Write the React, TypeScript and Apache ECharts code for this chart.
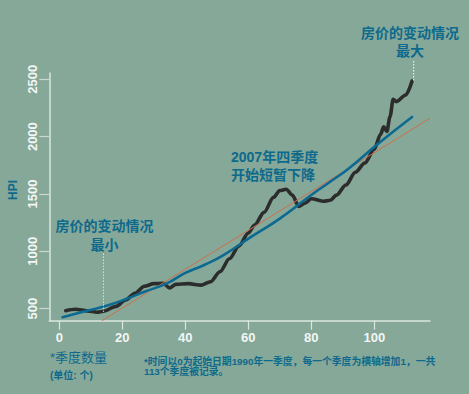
import React, { useEffect, useRef } from "react";
import * as echarts from "echarts";

// Observed house price index (HPI) by quarter index
const quarters = [2, 5, 9, 12, 14, 18, 21, 24, 27, 30, 33, 35, 37, 41, 45, 48, 51, 54, 57, 60, 62, 65, 68, 70, 72, 74, 76, 78, 80, 84, 86, 88, 91, 94, 97, 100, 102, 103, 104, 105, 106, 107, 110, 112];
const hpi = [482, 495, 480, 469, 478, 520, 576, 634, 695, 718, 722, 680, 712, 718, 705, 735, 822, 935, 1045, 1160, 1230, 1340, 1470, 1530, 1541, 1490, 1392, 1420, 1458, 1436, 1445, 1490, 1578, 1690, 1770, 1890, 2020, 2085, 2045, 2174, 2326, 2305, 2363, 2485];

// Quadratic fit (blue)
const fitQuarters = [1, 9, 15, 21, 27, 34, 40, 46, 52, 61, 70, 80, 86, 92, 101, 112];
const fitHpi = [425, 483, 526, 582, 648, 718, 812, 881, 965, 1128, 1285, 1491, 1607, 1725, 1934, 2172];

// Linear fit (red)
const linQuarters = [13.5, 117.7];
const linHpi = [395, 2160];

// Annotation guide points
const minQuarter = 14;
const minGuide = [474, 986];
const maxQuarter = 112.5;
const maxGuide = [2490, 2660];

const xTicks = [0, 20, 40, 60, 80, 100];
const yTicks = [500, 1000, 1500, 2000, 2500];

const FONT = "'Liberation Sans', 'Noto Sans CJK SC', sans-serif";
const BLUE_TEXT = "#0e6a8c";
const AXIS = "#dbe6e0";

export default function App() {
  const ref = useRef<HTMLDivElement>(null);
  useEffect(() => {
    const chart = echarts.init(ref.current!, null, { renderer: "svg" });
    const zip = (a: number[], b: number[]) => a.map((v, i) => [v, b[i]]);
    chart.setOption({
      animation: false,
      backgroundColor: "#85a898",
      grid: {
        left: 49.3,
        right: 39,
        top: 73,
        bottom: 73.3,
        containLabel: false,
        outerBoundsMode: "none",
      },
      xAxis: {
        type: "value",
        min: -3.2,
        max: 117.7,
        splitLine: { show: false },
        axisLine: { onZero: false, lineStyle: { color: AXIS, width: 1.5 } },
        axisTick: { show: true, length: 9, customValues: xTicks, lineStyle: { color: AXIS, width: 1.2 } },
        axisLabel: {
          customValues: xTicks,
          formatter: (v: number) => String(v),
          color: "#f3f6f4",
          fontWeight: "bold",
          fontSize: 13,
          fontFamily: FONT,
          margin: 10,
        },
      },
      yAxis: {
        type: "value",
        min: 395,
        max: 2555,
        splitLine: { show: false },
        axisLine: { onZero: false, lineStyle: { color: AXIS, width: 1.5 } },
        axisTick: { show: true, length: 10, customValues: yTicks, lineStyle: { color: "#c9d9d1", width: 1.2 } },
        axisLabel: {
          customValues: yTicks,
          formatter: (v: number) => String(v),
          rotate: 90,
          color: "#f3f6f4",
          fontWeight: "bold",
          fontSize: 13,
          fontFamily: FONT,
          margin: 10,
        },
      },
      series: [
        {
          type: "line",
          data: zip(quarters, hpi),
          smooth: 0.3,
          smoothMonotone: "x",
          symbol: "none",
          lineStyle: { color: "#2c2c2c", width: 3.6, cap: "round", join: "round" },
          z: 2,
        },
        {
          type: "line",
          data: zip(linQuarters, linHpi),
          symbol: "none",
          lineStyle: { color: "#cc6f4e", width: 1 },
          z: 3,
        },
        {
          type: "line",
          data: zip(fitQuarters, fitHpi),
          smooth: true,
          symbol: "none",
          lineStyle: { color: "#0c6a92", width: 2.6, cap: "round" },
          z: 4,
        },
        {
          type: "line",
          data: minGuide.map((v) => [minQuarter, v]),
          symbol: "none",
          clip: false,
          lineStyle: { color: "#ffffff", width: 1, type: [1, 2] },
          z: 5,
        },
        {
          type: "line",
          data: maxGuide.map((v) => [maxQuarter, v]),
          symbol: "none",
          clip: false,
          lineStyle: { color: "#e8eeeb", width: 1.2, type: [1.5, 1.5] },
          z: 5,
        },
      ],
      graphic: [
        {
          type: "text",
          x: 13,
          y: 190,
          rotation: Math.PI / 2,
          style: {
            text: "HPI",
            fill: BLUE_TEXT,
            font: `bold 12px ${FONT}`,
            textAlign: "center",
            textVerticalAlign: "middle",
          },
        },
        {
          type: "text",
          x: 410,
          y: 24,
          style: {
            text: "房价的变动情况\n最大",
            fill: BLUE_TEXT,
            font: `bold 14px ${FONT}`,
            lineHeight: 18,
            textAlign: "center",
            textVerticalAlign: "top",
          },
        },
        {
          type: "text",
          x: 104.5,
          y: 216.5,
          style: {
            text: "房价的变动情况\n最小",
            fill: BLUE_TEXT,
            font: `bold 14px ${FONT}`,
            lineHeight: 19,
            textAlign: "center",
            textVerticalAlign: "top",
          },
        },
        {
          type: "text",
          x: 231,
          y: 148,
          style: {
            text: "2007年四季度\n开始短暂下降",
            fill: BLUE_TEXT,
            font: `bold 14px ${FONT}`,
            lineHeight: 18,
            textAlign: "left",
            textVerticalAlign: "top",
          },
        },
        {
          type: "text",
          x: 50,
          y: 357,
          style: {
            text: "*季度数量",
            fill: BLUE_TEXT,
            font: `13px ${FONT}`,
            textAlign: "left",
            textVerticalAlign: "middle",
          },
        },
        {
          type: "text",
          x: 50,
          y: 375,
          style: {
            text: "(单位: 个)",
            fill: BLUE_TEXT,
            font: `bold 10px ${FONT}`,
            textAlign: "left",
            textVerticalAlign: "middle",
          },
        },
        {
          type: "text",
          x: 144,
          y: 361.3,
          style: {
            text: "*时间以0为起始日期1990年一季度，每一个季度为横轴增加1，一共",
            fill: BLUE_TEXT,
            font: `bold 9.8px ${FONT}`,
            textAlign: "left",
            textVerticalAlign: "middle",
          },
        },
        {
          type: "text",
          x: 144,
          y: 371,
          style: {
            text: "113个季度被记录。",
            fill: BLUE_TEXT,
            font: `bold 9.8px ${FONT}`,
            textAlign: "left",
            textVerticalAlign: "middle",
          },
        },
      ],
    });
    return () => chart.dispose();
  }, []);
  return (
    <div
      ref={ref}
      style={{ position: "fixed", left: 0, top: 0, width: 469, height: 394 }}
    />
  );
}
